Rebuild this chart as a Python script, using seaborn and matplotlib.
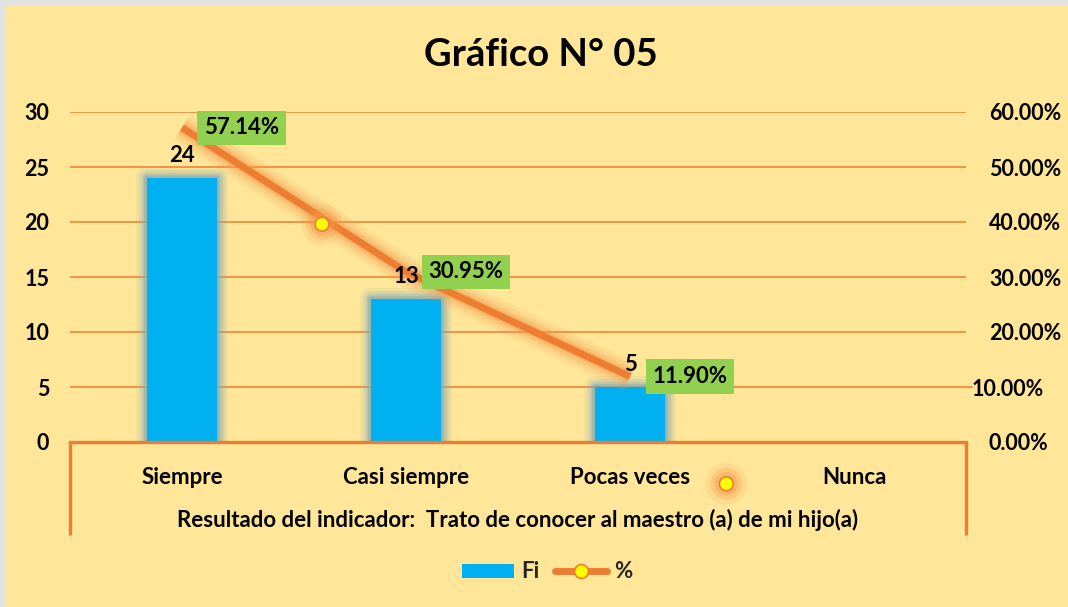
import numpy as np
import pandas as pd
import matplotlib
matplotlib.use("Agg")
import matplotlib.pyplot as plt
from matplotlib import patheffects as pe
from matplotlib.patches import Rectangle, Patch
from matplotlib.lines import Line2D
import seaborn as sns

# ---------------- data ----------------
categories = ["Siempre", "Casi siempre", "Pocas veces", "Nunca"]
fi_values = [24, 13, 5, 0]
pct_values = [57.14, 30.95, 11.90, np.nan]
left_ticks = [0, 5, 10, 15, 20, 25, 30]
right_ticks = [0, 10, 20, 30, 40, 50, 60]
# stray marker glyphs visible in the picture (category units, percent)
stray_x = [0.625, 2.43]
stray_pct = [39.6, -7.6]

title = "Gráfico N° 05"
xlabel = "Resultado del indicador:  Trato de conocer al maestro (a) de mi hijo(a)"

# ---------------- style ----------------
sns.set_theme(style="white")
plt.rcParams["font.family"] = ["Lato", "DejaVu Sans"]
plt.rcParams["font.weight"] = "bold"

BG = "#FFE699"
BLUE = "#00B0F0"
ORANGE = "#ED7D31"
GREEN = "#92D050"
YELLOW = "#FFFF00"
FS = 16

W, H = 1068, 607
fig = plt.figure(figsize=(W / 100, H / 100), dpi=100)
fig.patch.set_facecolor("#E2E2E2")
fig.patches.append(Rectangle((6 / W, 0), 1, 1 - 6 / H, transform=fig.transFigure,
                             fc=BG, ec="none", zorder=-5))

x0, x1 = 70, 966
y_top, y_bot = 112, 442
ax = fig.add_axes([x0 / W, 1 - y_bot / H, (x1 - x0) / W, (y_bot - y_top) / H])
ax.set_facecolor("none")

df = pd.DataFrame({"cat": categories, "Fi": fi_values})
sns.barplot(data=df, x="cat", y="Fi", order=categories, color=BLUE, saturation=1,
            width=0.31, ax=ax, zorder=3, linewidth=0, edgecolor=BLUE)
GLOW_B = "#7FA9B5"
for p in ax.patches:
    if p.get_height() > 0:
        p.set_path_effects([
            pe.Stroke(linewidth=16, foreground=GLOW_B, alpha=0.10, joinstyle="round"),
            pe.Stroke(linewidth=12, foreground=GLOW_B, alpha=0.18, joinstyle="round"),
            pe.Stroke(linewidth=8, foreground=GLOW_B, alpha=0.3, joinstyle="round"),
            pe.Stroke(linewidth=4, foreground=GLOW_B, alpha=0.5, joinstyle="round"),
            pe.Normal(),
        ])

ax.set_xlim(-0.5, 3.5)
ax.set_ylim(0, 30)
ax.set_yticks(left_ticks)
ax.set_yticklabels([str(t) for t in left_ticks])
ax.yaxis.grid(True, color=ORANGE, linewidth=1.1)
ax.xaxis.grid(False)
ax.set_axisbelow(True)
for s in ["left", "right", "top"]:
    ax.spines[s].set_visible(False)
ax.spines["bottom"].set_color(ORANGE)
ax.spines["bottom"].set_linewidth(2.4)
ax.spines["bottom"].set_zorder(6)
ax.tick_params(axis="y", length=0, pad=15, labelsize=15.5, labelcolor="black")
ax.tick_params(axis="x", length=0, pad=18, labelsize=FS, labelcolor="black")
for lbl in ax.get_xticklabels() + ax.get_yticklabels():
    lbl.set_fontweight("bold")

ax.set_xlabel(xlabel, fontsize=FS, fontweight="bold", color="black")
ax.xaxis.set_label_coords(0.5, -(520 - y_bot) / (y_bot - y_top))
ax.xaxis.label.set_va("center")
ax.set_ylabel("")

# frame below the axis
ext = (535 - y_bot) / (y_bot - y_top)
for xx in (0, 1):
    ax.plot([xx, xx], [0, -ext], transform=ax.transAxes, color=ORANGE,
            lw=2.4, clip_on=False, solid_capstyle="butt", zorder=6)

# ---------------- secondary axis: percent line ----------------
ax2 = ax.twinx()
ax2.set_facecolor("none")
line_df = pd.DataFrame({"x": np.arange(len(categories)), "pct": pct_values}).dropna()
sns.lineplot(data=line_df, x="x", y="pct", ax=ax2, color=ORANGE, linewidth=5,
             legend=False, zorder=4)
ln = ax2.get_lines()[0]
ln.set_solid_capstyle("butt")
GLOW_O = "#F59A4F"
ln.set_path_effects([
    pe.Stroke(linewidth=22, foreground=GLOW_O, alpha=0.10),
    pe.Stroke(linewidth=17, foreground=GLOW_O, alpha=0.15),
    pe.Stroke(linewidth=12, foreground=GLOW_O, alpha=0.25),
    pe.Stroke(linewidth=8, foreground=GLOW_O, alpha=0.35),
    pe.Normal(),
])

ax2.plot(stray_x, stray_pct, ls="none", marker="o", ms=10, mfc=YELLOW, mec=ORANGE,
         mew=1.2, clip_on=False, zorder=8,
         path_effects=[pe.Stroke(linewidth=20, foreground=GLOW_O, alpha=0.15),
                       pe.Stroke(linewidth=13, foreground=GLOW_O, alpha=0.25),
                       pe.Stroke(linewidth=7, foreground=GLOW_O, alpha=0.4),
                       pe.Normal()])

ax2.set_xlim(-0.5, 3.5)
ax2.set_ylim(0, 60)
ax2.set_yticks(right_ticks)
ax2.set_yticklabels([f"{t:.2f}%" for t in right_ticks])
ax2.tick_params(axis="y", length=0, pad=16.5, labelsize=15.5, labelcolor="black")
for lbl in ax2.get_yticklabels():
    lbl.set_fontweight("bold")
ax2.grid(False)
for s in ax2.spines.values():
    s.set_visible(False)
ax2.set_ylabel("")
ax2.set_xlabel("")
# the 10.00% label sits a little further left in the reference
ticks2 = ax2.yaxis.get_major_ticks()
ticks2[1].set_pad(4)
ax2.plot([1, (972 - x0) / (x1 - x0)], [10 / 60, 10 / 60], transform=ax2.transAxes,
         color=ORANGE, lw=1.1, clip_on=False)

# bar labels (drawn on top axis so the line does not cover them)
for i, v in enumerate(fi_values):
    if v > 0:
        ax2.annotate(str(v), xy=(i, v), xycoords=ax.transData, xytext=(0, 16),
                     textcoords="offset points", ha="center", va="center",
                     fontsize=FS, fontweight="bold", color="black", zorder=7)

for i, v in enumerate(pct_values):
    if not np.isnan(v):
        ax2.annotate(f"{v:.2f}%", xy=(i, v), xytext=(43, 0), textcoords="offset points",
                     ha="center", va="center", fontsize=FS, fontweight="bold",
                     color="black", zorder=9,
                     bbox=dict(boxstyle="square,pad=0.3", fc=GREEN, ec="none"))

# ---------------- title and legend ----------------
fig.text(541 / W, 1 - 55 / H, title, ha="center", va="center", fontsize=27.5,
         fontweight="bold", color="black")

handles = [Patch(facecolor=BLUE, edgecolor="none"),
           Line2D([0], [0], color=ORANGE, lw=5, marker="o", ms=10, mfc=YELLOW,
                  mec=ORANGE, mew=1.2)]
fig.legend(handles, ["Fi", "%"], loc="center", bbox_to_anchor=(547 / W, 1 - 572 / H),
           ncol=2, frameon=False, prop={"weight": "bold", "size": FS},
           handlelength=2.35, handleheight=0.6, handletextpad=0.3, columnspacing=0.7)

fig.savefig("out.png", dpi=100, facecolor=fig.get_facecolor())
